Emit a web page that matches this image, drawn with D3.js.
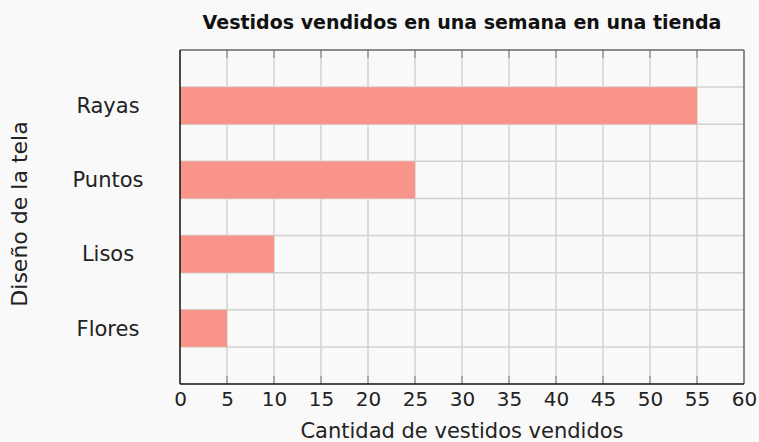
<!DOCTYPE html>
<html>
<head>
<meta charset="utf-8">
<script src="https://cdn.jsdelivr.net/npm/d3@7"></script>
<style>
	body { margin: 0; background: #f9f9f9; }
	svg { font-family: 'DejaVu Sans', sans-serif; }
</style>
</head>
<body>
<script>
// data
var categories = ['Rayas', 'Puntos', 'Lisos', 'Flores'];
var values = [55, 25, 10, 5];
var xTicks = [0, 5, 10, 15, 20, 25, 30, 35, 40, 45, 50, 55, 60];
var title = 'Vestidos vendidos en una semana en una tienda';
var xTitle = 'Cantidad de vestidos vendidos';
var yTitle = 'Diseño de la tela';

var W = 759, H = 442;
var margin = { top: 50, right: 15, bottom: 58, left: 180 },
	width = W - margin.left - margin.right,
	height = H - margin.top - margin.bottom;

var svg = d3.select('body').append('svg')
	.attr('width', W)
	.attr('height', H);

svg.append('rect').attr('width', W).attr('height', H).attr('fill', '#f9f9f9');

var x = d3.scaleLinear().domain([0, 60]).range([0, width]);
var y = d3.scaleBand().domain(categories).range([0, height])
	.paddingInner(0.5).paddingOuter(0.5);

var g = svg.append('g')
	.attr('transform', `translate(${margin.left}, ${margin.top})`);

// vertical grid
g.selectAll('.vgrid').data(xTicks.slice(1, -1)).enter().append('line')
	.attr('x1', d => x(d)).attr('x2', d => x(d))
	.attr('y1', 0).attr('y2', height)
	.attr('stroke', '#d2d2d2').attr('stroke-width', 1.5);

// horizontal grid at band edges
var edges = [];
categories.forEach(function(c) { edges.push(y(c), y(c) + y.bandwidth()); });
g.selectAll('.hgrid').data(edges).enter().append('line')
	.attr('x1', 0).attr('x2', width)
	.attr('y1', d => d).attr('y2', d => d)
	.attr('stroke', '#d2d2d2').attr('stroke-width', 1.5);

// small darker ticks along top and bottom
g.selectAll('.ttick').data(xTicks.slice(1, -1)).enter().append('line')
	.attr('x1', d => x(d)).attr('x2', d => x(d))
	.attr('y1', 0).attr('y2', 8)
	.attr('stroke', '#999').attr('stroke-width', 1.5);
g.selectAll('.btick').data(xTicks.slice(1, -1)).enter().append('line')
	.attr('x1', d => x(d)).attr('x2', d => x(d))
	.attr('y1', height - 8).attr('y2', height)
	.attr('stroke', '#999').attr('stroke-width', 1.5);

// bars
g.selectAll('.bar').data(values).enter().append('rect')
	.attr('x', 0)
	.attr('y', (d, i) => y(categories[i]))
	.attr('width', d => x(d))
	.attr('height', y.bandwidth())
	.attr('fill', '#f8948a');

// frame
g.append('line').attr('x1', 0).attr('x2', width).attr('y1', 0).attr('y2', 0)
	.attr('stroke', '#666').attr('stroke-width', 1.5);
g.append('line').attr('x1', width).attr('x2', width).attr('y1', 0).attr('y2', height)
	.attr('stroke', '#666').attr('stroke-width', 1.5);
g.append('line').attr('x1', 0).attr('x2', width).attr('y1', height).attr('y2', height)
	.attr('stroke', '#111').attr('stroke-width', 1.5);
g.append('line').attr('x1', 0).attr('x2', 0).attr('y1', 0).attr('y2', height)
	.attr('stroke', '#111').attr('stroke-width', 1.5);

// x tick labels
var xAxis = d3.axisBottom(x).tickValues(xTicks).tickSize(0).tickPadding(8);
var xg = g.append('g').attr('transform', `translate(0, ${height})`).call(xAxis);
xg.select('.domain').remove();
xg.selectAll('text').attr('font-size', 20).attr('fill', '#222')
	.attr('font-family', "'DejaVu Sans', sans-serif");

// y labels
g.selectAll('.ylab').data(categories).enter().append('text')
	.attr('x', -72)
	.attr('y', d => y(d) + y.bandwidth() / 2)
	.attr('dy', '0.35em')
	.attr('text-anchor', 'middle')
	.attr('font-size', 21)
	.attr('fill', '#222')
	.text(d => d);

// titles
svg.append('text')
	.attr('x', margin.left + width / 2).attr('y', 29)
	.attr('text-anchor', 'middle')
	.attr('font-size', 19).attr('font-weight', 'bold').attr('fill', '#111')
	.text(title);

svg.append('text')
	.attr('x', margin.left + width / 2).attr('y', 438)
	.attr('text-anchor', 'middle')
	.attr('font-size', 21).attr('fill', '#222')
	.text(xTitle);

svg.append('text')
	.attr('transform', 'translate(27, 214) rotate(-90)')
	.attr('text-anchor', 'middle')
	.attr('font-size', 22).attr('fill', '#222')
	.text(yTitle);
</script>
</body>
</html>
